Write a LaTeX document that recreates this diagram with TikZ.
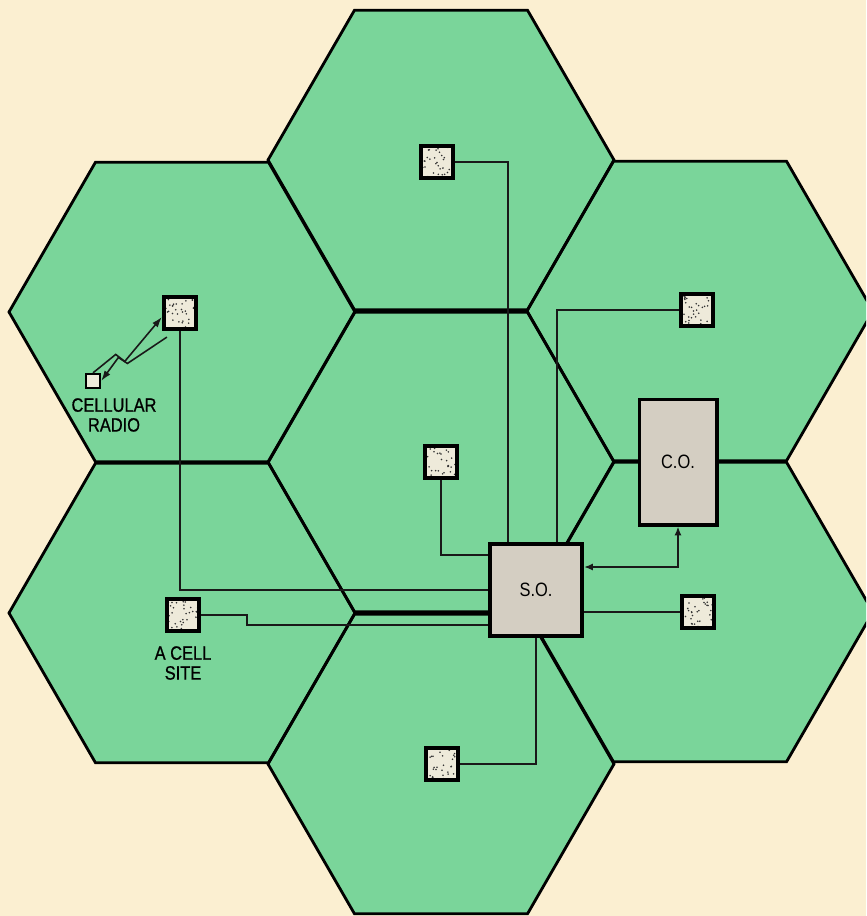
\documentclass[tikz,border=0pt]{standalone}
\usepackage{fontspec}
\setmainfont{Liberation Sans}
\newfontfamily\narrowfont[FakeStretch=0.85]{Liberation Sans}
\newfontfamily\tagfont[FakeStretch=0.85,FakeBold=0.8]{Liberation Sans}
\usetikzlibrary{arrows.meta,calc,positioning}
\definecolor{paper}{RGB}{251,239,209}
\definecolor{cellgreen}{RGB}{122,213,154}
\definecolor{officegray}{RGB}{212,206,194}
\definecolor{sitefill}{RGB}{238,234,218}
\tikzset{
 hexcell/.style={fill=cellgreen},
 hexedge/.style={draw=black,line width=1.6pt,line join=miter},
 wire/.style={draw=black!90,line width=1pt},
 zap/.style={draw=black!90,line width=0.9pt,line join=miter,-{Latex[length=6pt,width=4pt]}},
 cellsite/.style={draw,line width=2.4pt,fill=sitefill,minimum size=0.64cm,inner sep=0pt,
  path picture={\foreach \k in {1,...,30}{
   \fill[black!80] ($(path picture bounding box.center)+(rand*0.3cm,rand*0.3cm)$) circle (0.5pt);}}},
 office/.style={draw,line width=2pt,fill=officegray,inner sep=0pt,
  font=\narrowfont\fontsize{11}{12}\selectfont},
 tag/.style={align=center,inner sep=0pt,font=\tagfont\fontsize{11}{11.3}\selectfont}
}
\begin{document}
\begin{tikzpicture}[x=0.02cm,y=-0.02cm]
\pgfmathsetseed{7}
\useasboundingbox (0,0) rectangle (866,916);
\fill[paper] (0,0) rectangle (866,916);
% the seven cells
\begin{scope}
\clip (0,0) rectangle (866,916);
\foreach \cx/\cy in {441/160,441/462,441/764,182/312,182/613,700/311,700/612}
 \fill[hexcell] (\cx,\cy) +(0:173) -- +(60:173) -- +(120:173) -- +(180:173) -- +(240:173) -- +(300:173) -- cycle;
\foreach \cx/\cy in {441/160,441/462,441/764,182/312,182/613,700/311,700/612}
 \draw[hexedge] (\cx,\cy) +(0:173) -- +(60:173) -- +(120:173) -- +(180:173) -- +(240:173) -- +(300:173) -- cycle;
\end{scope}
% offices
\node[office,minimum width=1.85cm,minimum height=1.85cm] (so) at (536,590) {S.O.};
\node[office,minimum width=1.55cm,minimum height=2.51cm] (co) at (678,462) {C.O.};
% cell sites
\node[cellsite] (top) at (437,162) {};
\node[cellsite] (ul) at (180,313) {};
\node[cellsite] (mid) at (441,462) {};
\node[cellsite] (ur) at (697,310) {};
\node[cellsite] (site) at (183,615) {};
\node[cellsite] (lr) at (698,612) {};
\node[cellsite] (bot) at (442,764) {};
% mobile unit
\node[draw,line width=1.3pt,fill=sitefill,minimum size=0.28cm,inner sep=0pt] (radio) at (93,381) {};
\node[tag] (radiotag) at (114,415) {CELLULAR\\RADIO};
\node[tag] (sitetag) at (183,663) {A CELL\\SITE};
% trunks to the switching office
\draw[wire] (top.east) -| ([xshift=-0.56cm]so.north);
\draw[wire] (ur.west) -| ([xshift=0.42cm]so.north);
\draw[wire] (ul.south) |- (so.west);
\draw[wire] (mid.south) |- ([yshift=0.7cm]so.west);
\draw[wire] (site.east) -- ++(46,0) |- ([yshift=-0.7cm]so.west);
\draw[wire] (so.east |- lr.west) -- (lr.west);
\draw[wire] (bot.east) -| (so.south);
\draw[wire,{Latex[length=5pt,width=4pt]}-{Latex[length=5pt,width=4pt]}]
 ([yshift=0.46cm]so.east) -| (co.south);
% radio link
\draw[zap] (radio.north) -- ($(radio.north)!.33!([yshift=-0.08cm]ul.west)$) -- ++(9,7) -- ([yshift=-0.08cm]ul.west);
\draw[zap] ([xshift=0.1cm,yshift=-0.12cm]ul.south west) -- ($([xshift=0.1cm,yshift=-0.12cm]ul.south west)!.6!(radio.east)$) -- ++(-9,-6) -- (radio.east);
\end{tikzpicture}
\end{document}
